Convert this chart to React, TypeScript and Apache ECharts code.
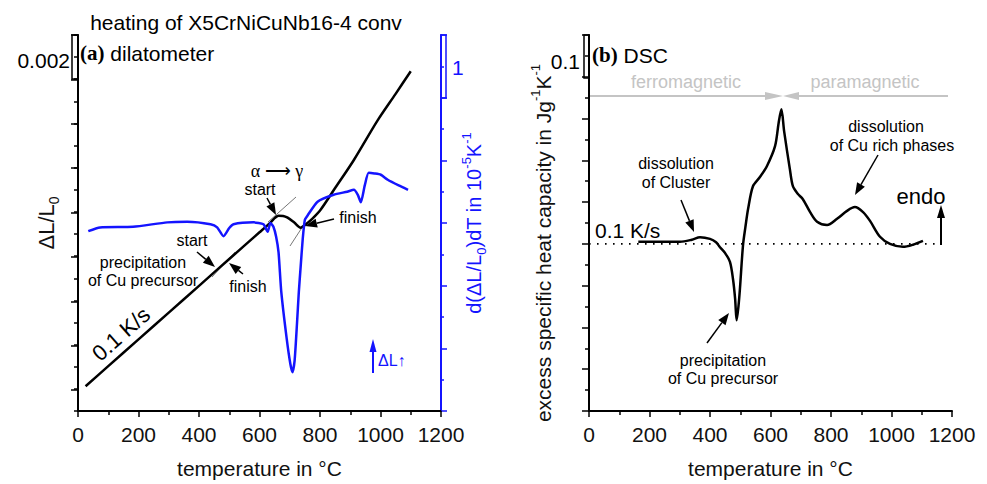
import React, { useEffect, useRef } from 'react';
import * as echarts from 'echarts';

// ---- Data ----
// (a) dilatometer: relative length change ΔL/L0 vs temperature (°C)
const dilTemp = [25, 100, 200, 300, 400, 500, 600, 636, 650, 663, 678, 693, 715, 736, 752, 775, 802, 850, 912, 991, 1050, 1100];
const dilStrain = [0.00012, 0.00103, 0.00224, 0.00345, 0.00466, 0.00587, 0.00708, 0.00752, 0.00772, 0.00783, 0.00782, 0.00774, 0.00752, 0.00729, 0.00743, 0.0077, 0.0081, 0.00908, 0.01035, 0.01215, 0.01334, 0.01436];

// derivative d(ΔL/L0)/dT in 1e-5 K^-1 (offset scale)
const derivTemp = [34, 73, 182, 295, 361, 438, 460, 481, 500, 514, 580, 613, 627, 636, 646, 655, 663, 672, 690, 702, 709, 716, 724, 730, 736, 743, 750, 759, 792, 845, 890, 912, 925, 935, 948, 961, 980, 1001, 1024, 1060, 1091];
const derivVal = [0.87, 0.93, 0.94, 1.01, 1.02, 0.98, 0.93, 0.79, 0.92, 0.98, 1.01, 0.98, 0.86, 1.0, 0.94, 0.78, 0.53, -0.1, -0.85, -1.25, -1.38, -1.2, -0.6, -0.1, 0.3, 0.75, 1.05, 1.12, 1.34, 1.45, 1.5, 1.53, 1.45, 1.33, 1.6, 1.8, 1.79, 1.77, 1.69, 1.6, 1.53];

// (b) DSC: excess specific heat capacity (J g^-1 K^-1)
const dscTemp = [163, 250, 301, 340, 367, 400, 420, 433, 450, 466, 476, 483, 488, 494, 499, 509, 517, 526, 542, 565, 588, 615, 627, 636, 645, 664, 674, 690, 707, 731, 754, 787, 820, 853, 879, 906, 929, 962, 995, 1038, 1071, 1104];
const dscVal = [0.005, 0.005, 0.005, 0.01, 0.016, 0.012, 0.004, -0.008, -0.022, -0.043, -0.084, -0.131, -0.183, -0.15, -0.107, -0.004, 0.04, 0.084, 0.138, 0.16, 0.186, 0.234, 0.29, 0.322, 0.27, 0.179, 0.138, 0.12, 0.107, 0.076, 0.053, 0.045, 0.06, 0.079, 0.088, 0.076, 0.055, 0.017, 0.0, -0.007, -0.002, 0.007];

// zero baseline of the DSC signal (dotted)
const dscBaselineTemp = [0, 1160];

const xTicks = { min: 0, max: 1200, interval: 200 };

const SANS = "'Liberation Sans', Arial, sans-serif";
const SERIF = "'Liberation Serif', 'Times New Roman', serif";
const BLUE = '#1414ff';
const GRAY = '#c4c4c4';

function arrow(x1: number, y1: number, x2: number, y2: number, color = '#000', len = 12, w = 4.5, lw = 1.5) {
  const a = Math.atan2(y2 - y1, x2 - x1);
  const bx = x2 - len * Math.cos(a);
  const by = y2 - len * Math.sin(a);
  const px = -Math.sin(a) * w;
  const py = Math.cos(a) * w;
  return [
    { type: 'line', shape: { x1, y1, x2: bx, y2: by }, style: { stroke: color, lineWidth: lw } },
    { type: 'polygon', shape: { points: [[x2, y2], [bx + px, by + py], [bx - px, by - py]] }, style: { fill: color } },
  ];
}

function txt(text: string, x: number, y: number, o: any = {}) {
  return {
    type: 'text',
    x,
    y,
    rotation: o.rotation || 0,
    style: {
      text,
      fill: o.fill || '#000',
      fontSize: o.fontSize || 16,
      fontFamily: o.fontFamily || SANS,
      fontWeight: o.fontWeight || 'normal',
      align: o.align || 'center',
      verticalAlign: 'middle',
      rich: o.rich,
    },
  };
}

function tline(x1: number, y1: number, x2: number, y2: number, color = '#777', lw = 1) {
  return { type: 'line', shape: { x1, y1, x2, y2 }, style: { stroke: color, lineWidth: lw } };
}

const xAxisCommon = {
  type: 'value',
  ...xTicks,
  axisLine: { onZero: false, lineStyle: { color: '#000', width: 2 } },
  axisTick: { length: 6, lineStyle: { color: '#000', width: 1.5 } },
  minorTick: { show: true, splitNumber: 2, length: 4, lineStyle: { color: '#000', width: 1.5 } },
  splitLine: { show: false },
  axisLabel: { fontSize: 21, color: '#111', margin: 13, fontFamily: SANS, formatter: (v: number) => String(v) },
  name: 'temperature in °C',
  nameLocation: 'middle',
  nameGap: 47,
  nameTextStyle: { fontSize: 21, color: '#111', fontFamily: SANS },
};

const option: any = {
  animation: false,
  textStyle: { fontFamily: SANS },
  grid: [
    { left: 78, top: 35, width: 363, height: 377 },
    { left: 78, top: 35, width: 363, height: 355 },
    { left: 589, top: 35, width: 363, height: 377 },
  ],
  xAxis: [
    { gridIndex: 0, ...xAxisCommon },
    { gridIndex: 1, type: 'value', min: 0, max: 1200, show: false },
    { gridIndex: 2, ...xAxisCommon },
  ],
  yAxis: [
    {
      gridIndex: 0,
      type: 'value',
      position: 'left',
      min: -0.001,
      max: 0.016,
      interval: 0.001,
      axisLine: { show: true, onZero: false, lineStyle: { color: '#000', width: 2 } },
      axisTick: { show: true, length: 4, lineStyle: { color: '#000', width: 1.5 } },
      axisLabel: { show: false },
      splitLine: { show: false },
      name: '{n|ΔL/L}{sub|0}',
      nameLocation: 'middle',
      nameGap: 17,
      nameTextStyle: {
        color: '#111',
        rich: {
          n: { fontSize: 22, lineHeight: 30, fontFamily: SANS, color: '#111' },
          sub: { fontSize: 14, lineHeight: 14, verticalAlign: 'bottom', fontFamily: SANS, color: '#111' },
        },
      },
    },
    {
      gridIndex: 1,
      type: 'value',
      min: 0,
      max: 0.016,
      interval: 0.002,
      axisLine: { show: false, onZero: false },
      axisTick: { show: true, length: 7, lineStyle: { color: '#000', width: 1.5 } },
      axisLabel: { show: false },
      splitLine: { show: false },
    },
    {
      gridIndex: 0,
      type: 'value',
      position: 'right',
      min: -2,
      max: 4,
      interval: 1,
      axisLine: { show: true, onZero: false, lineStyle: { color: BLUE, width: 2 } },
      axisTick: { show: true, length: 6, lineStyle: { color: BLUE, width: 1.5 } },
      minorTick: { show: true, splitNumber: 2, length: 3, lineStyle: { color: BLUE, width: 1.5 } },
      axisLabel: { show: false },
      splitLine: { show: false },
      name: '{n|d(ΔL/L}{sub|0}{n|)dT in 10}{sup|-5}{n|K}{sup|-1}',
      nameLocation: 'middle',
      nameGap: 19,
      nameTextStyle: {
        color: BLUE,
        rich: {
          n: { fontSize: 20, lineHeight: 28, fontFamily: SANS, color: BLUE },
          sub: { fontSize: 13, lineHeight: 13, verticalAlign: 'bottom', fontFamily: SANS, color: BLUE },
          sup: { fontSize: 13, lineHeight: 13, verticalAlign: 'top', fontFamily: SANS, color: BLUE },
        },
      },
    },
    {
      gridIndex: 2,
      type: 'value',
      min: -0.4,
      max: 0.5,
      interval: 0.1,
      axisLine: { show: true, onZero: false, lineStyle: { color: '#000', width: 2 } },
      axisTick: { show: true, length: 7, lineStyle: { color: '#000', width: 1.5 } },
      minorTick: { show: true, splitNumber: 2, length: 4, lineStyle: { color: '#000', width: 1.5 } },
      axisLabel: { show: false },
      splitLine: { show: false },
      name: '{n|excess specific heat capacity in Jg}{sup|-1}{n|K}{sup|-1}',
      nameLocation: 'middle',
      nameGap: 32,
      nameTextStyle: {
        color: '#111',
        padding: [0, 40, 0, 0],
        rich: {
          n: { fontSize: 21, lineHeight: 28, fontFamily: SANS, color: '#111' },
          sup: { fontSize: 13, lineHeight: 13, verticalAlign: 'top', fontFamily: SANS, color: '#111' },
        },
      },
    },
  ],
  series: [
    {
      type: 'line',
      name: 'ΔL/L0',
      xAxisIndex: 0,
      yAxisIndex: 0,
      data: dilTemp.map((t, i) => [t, dilStrain[i]]),
      showSymbol: false,
      smooth: 0.3,
      lineStyle: { color: '#000', width: 2.5 },
    },
    {
      type: 'line',
      name: 'derivative',
      xAxisIndex: 0,
      yAxisIndex: 2,
      data: derivTemp.map((t, i) => [t, derivVal[i]]),
      showSymbol: false,
      smooth: 0.2,
      lineStyle: { color: BLUE, width: 2.5 },
    },
    {
      type: 'line',
      name: 'baseline',
      xAxisIndex: 2,
      yAxisIndex: 3,
      data: dscBaselineTemp.map((t) => [t, 0]),
      showSymbol: false,
      silent: true,
      lineStyle: { color: '#000', width: 1.6, type: [1.6, 6.4] },
      z: 1,
    },
    {
      type: 'line',
      name: 'DSC',
      xAxisIndex: 2,
      yAxisIndex: 3,
      data: dscTemp.map((t, i) => [t, dscVal[i]]),
      showSymbol: false,
      smooth: 0.3,
      lineStyle: { color: '#000', width: 2.5 },
      z: 3,
    },
  ],
  graphic: [
    // scale-bar brackets on the y axes
    { type: 'rect', shape: { x: 72, y: 35, width: 6, height: 44 }, style: { fill: 'none', stroke: '#000', lineWidth: 1.5 } },
    { type: 'rect', shape: { x: 441, y: 35, width: 5, height: 63 }, style: { fill: 'none', stroke: BLUE, lineWidth: 1.5 } },
    { type: 'rect', shape: { x: 584, y: 35, width: 5, height: 43 }, style: { fill: 'none', stroke: '#000', lineWidth: 1.5 } },
    txt('0.002', 70, 60, { fontSize: 21, align: 'right' }),
    txt('1', 452, 67, { fontSize: 21, align: 'left', fill: BLUE }),
    txt('0.1', 580, 61, { fontSize: 21, align: 'right' }),

    // (a) panel
    txt('heating of X5CrNiCuNb16-4 conv', 246, 22, { fontSize: 21 }),
    txt('{b|(a)} dilatometer', 80, 53, {
      fontSize: 21,
      align: 'left',
      rich: { b: { fontFamily: SERIF, fontWeight: 'bold', fontSize: 21, fill: '#000' } },
    }),
    txt('α ⟶ γ', 277, 171, { fontSize: 18, fontFamily: SERIF }),
    txt('start', 260, 189, { fontSize: 16 }),
    ...arrow(267, 198, 276, 215),
    tline(268, 222, 296, 197),
    tline(290, 246, 303, 226),
    txt('finish', 358, 217, { fontSize: 16 }),
    ...arrow(334, 219, 305, 226),
    txt('start', 192, 240, { fontSize: 16 }),
    ...arrow(197, 252, 215, 267),
    tline(212, 277, 235, 252),
    txt('precipitation', 143, 262, { fontSize: 16 }),
    txt('of Cu precursor', 143, 280, { fontSize: 16 }),
    txt('finish', 248, 286, { fontSize: 16 }),
    ...arrow(243, 274, 229, 263),
    txt('0.1 K/s', 121, 334, { fontSize: 22, rotation: 0.72 }),
    ...arrow(373, 373, 373, 339, BLUE, 13, 3.5, 2),
    txt('ΔL↑', 378, 360, { fontSize: 16, align: 'left', fill: BLUE }),

    // (b) panel
    txt('{b|(b)} DSC', 592, 55, {
      fontSize: 21,
      align: 'left',
      rich: { b: { fontFamily: SERIF, fontWeight: 'bold', fontSize: 21, fill: '#000' } },
    }),
    txt('ferromagnetic', 686, 82, { fontSize: 18, fill: GRAY }),
    txt('paramagnetic', 865, 82, { fontSize: 18, fill: GRAY }),
    ...arrow(589, 96, 783, 96, GRAY, 18, 4, 2),
    ...arrow(948, 96, 783, 96, GRAY, 16, 4, 2),
    txt('dissolution', 676, 163, { fontSize: 16 }),
    txt('of Cluster', 676, 182, { fontSize: 16 }),
    ...arrow(681, 200, 694, 232),
    txt('0.1 K/s', 595, 230, { fontSize: 21, align: 'left' }),
    txt('dissolution', 886, 126, { fontSize: 16 }),
    txt('of Cu rich phases', 892, 145, { fontSize: 16 }),
    ...arrow(878, 155, 855, 195),
    txt('endo', 921, 196, { fontSize: 22 }),
    ...arrow(941, 245, 941, 205, '#000', 13, 4, 2),
    txt('precipitation', 723, 360, { fontSize: 16 }),
    txt('of Cu precursor', 723, 378, { fontSize: 16 }),
    ...arrow(707, 343, 729, 313),
  ],
};

export default function App() {
  const ref = useRef<HTMLDivElement>(null);
  useEffect(() => {
    const chart = echarts.init(ref.current as HTMLDivElement, null, { renderer: 'svg' });
    chart.setOption(option);
    return () => chart.dispose();
  }, []);
  return (
    <div
      ref={ref}
      style={{ position: 'fixed', left: 0, top: 0, width: 987, height: 484, background: '#fff' }}
    />
  );
}
